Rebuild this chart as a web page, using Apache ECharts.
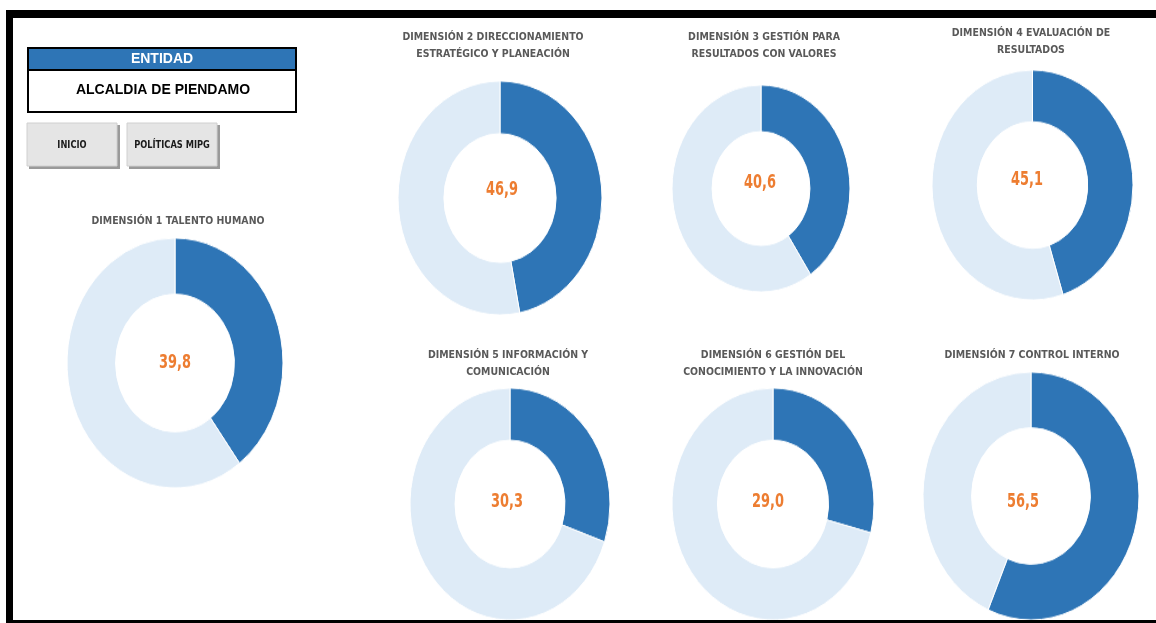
<!DOCTYPE html>
<html>
<head>
<meta charset="utf-8">
<script src="https://cdn.jsdelivr.net/npm/echarts@6/dist/echarts.min.js"></script>
<style>
  html, body { margin: 0; padding: 0; background: #fff; }
  #wrap { position: relative; width: 1156px; height: 623px; overflow: hidden; }
  #main { position: absolute; left: 0; top: 0; width: 1156px; height: 623px; }
  .pie { position: absolute; transform-origin: 0 0; }
</style>
</head>
<body>
<div id="wrap"><div id="main"></div></div>
<script>
// ---- data ----
const entityLabel = 'ENTIDAD';
const entityName = 'ALCALDIA DE PIENDAMO';
const buttons = ['INICIO', 'POLÍTICAS MIPG'];
const dimensionTitles = [
  'DIMENSIÓN 1 TALENTO HUMANO',
  'DIMENSIÓN 2 DIRECCIONAMIENTO\nESTRATÉGICO Y PLANEACIÓN',
  'DIMENSIÓN 3 GESTIÓN PARA\nRESULTADOS CON VALORES',
  'DIMENSIÓN 4 EVALUACIÓN DE\nRESULTADOS',
  'DIMENSIÓN 5 INFORMACIÓN Y\nCOMUNICACIÓN',
  'DIMENSIÓN 6 GESTIÓN DEL\nCONOCIMIENTO Y LA INNOVACIÓN',
  'DIMENSIÓN 7 CONTROL INTERNO'
];
const dimensionScores = [39.8, 46.9, 40.6, 45.1, 30.3, 29.0, 56.5];
const scoreMax = 100;

// ---- layout (positions / sizes) ----
// [cx, cy, rx, ry]
const donutLayout = [
  [175, 363, 108, 125],
  [500, 198, 102, 117],
  [761, 188.5, 89, 103.5],
  [1032, 185, 100.5, 115],
  [509.5, 504, 100, 116],
  [773, 504, 101, 116],
  [1031, 496, 108, 124]
];
// title anchor [x, y of first line centre]
const titlePos = [
  [178, 221], [493, 37], [764, 37], [1031, 33], [508, 355], [773, 355], [1032, 355]
];
// value label centre
const valuePos = [
  [175, 363], [502, 190], [760, 183], [1027, 180], [507, 502], [768, 502], [1023, 502]
];

const DARK = '#2E75B6';
const LIGHT = '#DEEBF7';
const ORANGE = '#ED7D31';
const GREY = '#595959';
const NARROW = "'Liberation Sans Narrow', 'DejaVu Sans Condensed', sans-serif";

function fmt(v) { return v.toFixed(1).replace('.', ','); }

// ---- background chart: frame, entity box, buttons, titles, values ----
const main = echarts.init(document.getElementById('main'), null, { renderer: 'canvas' });
const g = [];
// frame
g.push({ type: 'rect', shape: { x: 6, y: 10, width: 1150, height: 8 }, style: { fill: '#000' } });
g.push({ type: 'rect', shape: { x: 6, y: 10, width: 7, height: 613 }, style: { fill: '#000' } });
g.push({ type: 'rect', shape: { x: 6, y: 620, width: 1150, height: 3 }, style: { fill: '#000' } });
// entity box
g.push({ type: 'rect', shape: { x: 28, y: 48, width: 268, height: 64 }, style: { fill: '#fff', stroke: '#000', lineWidth: 2 } });
g.push({ type: 'rect', shape: { x: 29, y: 49, width: 266, height: 20 }, style: { fill: DARK } });
g.push({ type: 'line', shape: { x1: 28, y1: 70, x2: 296, y2: 70 }, style: { stroke: '#000', lineWidth: 2 } });
g.push({ type: 'text', x: 162, y: 59, style: { text: entityLabel, fill: '#fff', font: 'bold 14px "Liberation Sans", Arial, sans-serif', align: 'center', verticalAlign: 'middle' } });
g.push({ type: 'text', x: 163, y: 90, style: { text: entityName, fill: '#000', font: 'bold 14px "Liberation Sans", Arial, sans-serif', align: 'center', verticalAlign: 'middle' } });
// buttons
const btnX = [27, 127];
buttons.forEach((b, i) => {
  g.push({ type: 'rect', shape: { x: btnX[i] + 2, y: 125, width: 91, height: 44 }, style: { fill: '#9a9a9a' } });
  g.push({ type: 'rect', shape: { x: btnX[i], y: 123, width: 90, height: 43 }, style: { fill: '#E5E5E5', stroke: '#d0d0d0', lineWidth: 1 } });
  g.push({ type: 'text', x: btnX[i] + 45, y: 145, scaleX: 0.92, style: { text: b, fill: '#1a1a1a', font: 'bold 10px ' + NARROW, align: 'center', verticalAlign: 'middle' } });
});
// titles
dimensionTitles.forEach((t, i) => {
  g.push({ type: 'text', x: titlePos[i][0], y: titlePos[i][1] - 8, scaleX: 0.95, style: { text: t, fill: GREY, font: 'bold 11px ' + NARROW, align: 'center', verticalAlign: 'top', lineHeight: 17 } });
});
// values
dimensionScores.forEach((v, i) => {
  g.push({ type: 'text', x: valuePos[i][0], y: valuePos[i][1], z: 10, scaleX: 0.72, style: { text: fmt(v), fill: ORANGE, font: 'bold 20px ' + NARROW, align: 'center', verticalAlign: 'middle' } });
});
main.setOption({ animation: false, backgroundColor: '#fff', graphic: { elements: g } });

// ---- donuts (one chart each, stretched vertically into an ellipse) ----
const wrap = document.getElementById('wrap');
dimensionScores.forEach((v, i) => {
  const [cx, cy, rx, ry] = donutLayout[i];
  const d = document.createElement('div');
  d.className = 'pie';
  d.style.left = (cx - rx) + 'px';
  d.style.top = (cy - ry) + 'px';
  d.style.width = (2 * rx) + 'px';
  d.style.height = (2 * rx) + 'px';
  d.style.transform = 'scaleY(' + (ry / rx) + ')';
  wrap.appendChild(d);
  const c = echarts.init(d, null, { renderer: 'canvas' });
  c.setOption({
    animation: false,
    backgroundColor: 'transparent',
    series: [{
      type: 'pie',
      silent: true,
      center: ['50%', '50%'],
      radius: ['55%', '100%'],
      startAngle: 90,
      clockwise: true,
      label: { show: false },
      labelLine: { show: false },
      itemStyle: { borderColor: '#fff', borderWidth: 1 },
      data: [
        { value: v, itemStyle: { color: DARK } },
        { value: scoreMax - v, itemStyle: { color: LIGHT } }
      ]
    }]
  });
});
</script>
</body>
</html>
